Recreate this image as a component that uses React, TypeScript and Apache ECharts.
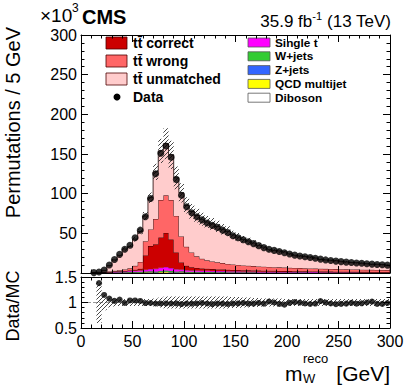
import React, { useEffect, useRef } from "react";
import * as echarts from "echarts";

// ---------- data (thousands of permutations per 5 GeV bin) ----------
const BIN_START = 10; // GeV, low edge of first bin
const BIN_WIDTH = 5; // GeV

const dataCounts = [
  0.5, 1.2, 3.8, 10, 17, 23.5, 30, 35, 44.5, 54,
  71, 94, 125, 151, 160, 146, 118, 98, 83.5, 76,
  71, 67, 63, 60, 57.5, 54, 51, 47, 44.5, 42,
  39.5, 37, 34.5, 32, 30, 28.5, 27, 25.5, 24, 22.5,
  21.5, 20.5, 19.5, 18.5, 17.5, 16.5, 15.8, 15, 14.3, 13.7,
  13.2, 12.7, 12.2, 11.7, 11.2, 10.7, 10.3, 9.9,
];

const ttCorrect = [
  0.05, 0.1, 0.15, 0.2, 0.3, 0.4, 0.5, 0.7, 1.0, 2.0,
  18, 29, 31, 38, 43, 36, 21, 9, 5.5, 4,
  3.2, 2.8, 2.5, 2.3, 2.1, 2.0, 1.9, 1.8, 1.7, 1.6,
  1.5, 1.45, 1.4, 1.35, 1.3, 1.25, 1.2, 1.15, 1.1, 1.05,
  1.0, 0.95, 0.9, 0.88, 0.85, 0.82, 0.8, 0.77, 0.74, 0.72,
  0.7, 0.68, 0.66, 0.64, 0.62, 0.6, 0.58, 0.56,
];

const ttWrong = [
  0.05, 0.2, 0.45, 0.7, 1.0, 1.3, 1.9, 2.7, 5.0, 8.7,
  18, 21, 31.7, 47.3, 47.5, 49.8, 46.2, 32.7, 24, 18.8,
  14.7, 12.4, 10.7, 9.6, 9.0, 8.1, 7.3, 6.9, 6.3, 6.0,
  5.8, 5.4, 5.2, 5.1, 4.8, 4.65, 4.5, 4.3, 4.1, 4.1,
  4.0, 3.86, 3.77, 3.6, 3.5, 3.37, 3.3, 3.2, 3.16, 3.0,
  2.95, 2.9, 2.76, 2.68, 2.63, 2.57, 2.5, 2.45,
];

const ttUnmatched = [
  0.05, 0.25, 2.0, 7.3, 13.7, 18.6, 25.8, 27.7, 33.8, 38.4,
  31.7, 40, 59.5, 62, 65, 57, 48, 55, 52.2, 51.6,
  51.4, 49.7, 48.3, 47.4, 45.2, 42.6, 41.1, 37.2, 35.2, 32.8,
  31.2, 29.1, 26.5, 24.7, 21.7, 21.1, 20.7, 19.8, 17.6, 15.9,
  15.3, 14.9, 14.3, 13.3, 11.6, 11.3, 11.0, 10.6, 9.9, 9.4,
  8.8, 8.6, 8.2, 7.6, 7.0, 7.1, 6.8, 6.3,
];

const singleTop = [
  0.05, 0.1, 0.3, 0.5, 0.7, 0.9, 1.1, 1.3, 1.5, 1.8,
  2.2, 2.7, 3.3, 4.0, 4.5, 3.8, 2.8, 2.2, 1.9, 1.7,
  1.6, 1.5, 1.45, 1.4, 1.35, 1.3, 1.25, 1.2, 1.15, 1.1,
  1.05, 1.0, 0.95, 0.9, 0.88, 0.85, 0.82, 0.8, 0.77, 0.74,
  0.72, 0.7, 0.68, 0.66, 0.64, 0.62, 0.6, 0.58, 0.56, 0.55,
  0.53, 0.52, 0.5, 0.49, 0.48, 0.47, 0.46, 0.45,
];

const wJets = [
  0.05, 0.1, 0.2, 0.3, 0.4, 0.5, 0.55, 0.6, 0.7, 0.75,
  0.85, 0.95, 1.0, 1.1, 1.2, 1.1, 0.95, 0.85, 0.8, 0.75,
  0.7, 0.68, 0.65, 0.62, 0.6, 0.58, 0.55, 0.52, 0.5, 0.48,
  0.46, 0.44, 0.42, 0.4, 0.38, 0.36, 0.35, 0.34, 0.32, 0.3,
  0.29, 0.28, 0.27, 0.26, 0.25, 0.24, 0.23, 0.22, 0.21, 0.2,
  0.2, 0.19, 0.18, 0.18, 0.17, 0.16, 0.16, 0.15,
];

const zJets = [
  0.02, 0.04, 0.06, 0.08, 0.1, 0.12, 0.14, 0.15, 0.17, 0.19,
  0.22, 0.25, 0.28, 0.3, 0.32, 0.3, 0.27, 0.24, 0.22, 0.2,
  0.19, 0.18, 0.17, 0.16, 0.15, 0.14, 0.13, 0.12, 0.12, 0.11,
  0.1, 0.1, 0.09, 0.09, 0.08, 0.08, 0.07, 0.07, 0.07, 0.06,
  0.06, 0.06, 0.05, 0.05, 0.05, 0.05, 0.04, 0.04, 0.04, 0.04,
  0.04, 0.03, 0.03, 0.03, 0.03, 0.03, 0.03, 0.03,
];

const qcdMultijet = [
  0.0, 0.05, 0.1, 0.15, 0.2, 0.3, 0.2, 0.4, 0.5, 0.4,
  0.7, 0.9, 0.6, 1.1, 1.3, 0.8, 0.6, 0.9, 0.5, 0.4,
  0.5, 0.3, 0.4, 0.3, 0.2, 0.3, 0.25, 0.2, 0.3, 0.2,
  0.15, 0.2, 0.15, 0.1, 0.2, 0.15, 0.1, 0.1, 0.15, 0.1,
  0.1, 0.1, 0.08, 0.1, 0.08, 0.06, 0.1, 0.06, 0.05, 0.06,
  0.05, 0.05, 0.04, 0.05, 0.04, 0.04, 0.03, 0.03,
];

const diboson = [
  0.02, 0.03, 0.05, 0.06, 0.08, 0.09, 0.1, 0.11, 0.12, 0.13,
  0.14, 0.15, 0.16, 0.17, 0.18, 0.17, 0.16, 0.15, 0.14, 0.13,
  0.12, 0.12, 0.11, 0.11, 0.1, 0.1, 0.09, 0.09, 0.09, 0.08,
  0.08, 0.08, 0.07, 0.07, 0.07, 0.06, 0.06, 0.06, 0.06, 0.05,
  0.05, 0.05, 0.05, 0.05, 0.04, 0.04, 0.04, 0.04, 0.04, 0.04,
  0.03, 0.03, 0.03, 0.03, 0.03, 0.03, 0.03, 0.03,
];

// relative MC uncertainty per bin (hatched band)
const mcRelUnc = [
  0, 0.4, 0.15, 0.1, 0.08, 0.07, 0.07, 0.07, 0.07, 0.07,
  0.07, 0.07, 0.08, 0.1, 0.12, 0.12, 0.12, 0.12, 0.12, 0.12,
  0.12, 0.12, 0.12, 0.12, 0.12, 0.12, 0.12, 0.11, 0.11, 0.1,
  0.1, 0.09, 0.09, 0.08, 0.08, 0.08, 0.08, 0.07, 0.07, 0.07,
  0.07, 0.07, 0.07, 0.07, 0.07, 0.07, 0.07, 0.07, 0.07, 0.07,
  0.07, 0.07, 0.07, 0.07, 0.07, 0.07, 0.07, 0.07,
];

const ratioTickLabels: Record<string, string> = { "0.5": "0.5", "1": "1", "1.5": "1.5" };

// stack, bottom to top
const stackDefs = [
  { name: "Diboson", values: diboson, color: "#ffffff" },
  { name: "QCD multijet", values: qcdMultijet, color: "#ffff00" },
  { name: "Z+jets", values: zJets, color: "#3366ff" },
  { name: "W+jets", values: wJets, color: "#33cc33" },
  { name: "Single t", values: singleTop, color: "#ff00ff" },
  { name: "tt̄ correct", values: ttCorrect, color: "#cc0000" },
  { name: "tt̄ wrong", values: ttWrong, color: "#ff6666" },
  { name: "tt̄ unmatched", values: ttUnmatched, color: "#ffcccc" },
];

const FONT = '"Liberation Sans", Arial, Helvetica, sans-serif';

function makeHatchCanvas() {
  const c = document.createElement("canvas");
  c.width = 4;
  c.height = 4;
  const ctx = c.getContext("2d")!;
  ctx.strokeStyle = "#333";
  ctx.lineWidth = 0.9;
  ctx.beginPath();
  ctx.moveTo(0, 4);
  ctx.lineTo(4, 0);
  ctx.moveTo(-1, 1);
  ctx.lineTo(1, -1);
  ctx.moveTo(3, 5);
  ctx.lineTo(5, 3);
  ctx.stroke();
  return c;
}

export default function App() {
  const ref = useRef<HTMLDivElement>(null);

  useEffect(() => {
    if (!ref.current) return;
    const chart = echarts.init(ref.current, undefined, { renderer: "svg" });
    const n = dataCounts.length;
    const edges: number[] = [];
    for (let i = 0; i <= n; i++) edges.push(BIN_START + i * BIN_WIDTH);
    const centers = edges.slice(0, n).map((e) => e + BIN_WIDTH / 2);

    // cumulative stack levels
    const levels: number[][] = [new Array(n).fill(0)];
    stackDefs.forEach((s, k) => {
      levels.push(levels[k].map((v, i) => v + s.values[i]));
    });
    const total = levels[levels.length - 1];

    const hatchPattern: any = {
      image: makeHatchCanvas(),
      repeat: "repeat",
      imageWidth: 4,
      imageHeight: 4,
    };

    const layer = (
      base: number[],
      top: number[],
      fill: any,
      stroke: string | null,
      lw: number,
      xi: number,
      yi: number,
      z: number
    ) => ({
      type: "custom",
      xAxisIndex: xi,
      yAxisIndex: yi,
      data: [[0]],
      clip: true,
      silent: true,
      z,
      renderItem: (_p: any, api: any) => {
        const topPts: number[][] = [];
        const basePts: number[][] = [];
        for (let i = 0; i < n; i++) {
          topPts.push(api.coord([edges[i], top[i]]), api.coord([edges[i + 1], top[i]]));
          basePts.push(api.coord([edges[i], base[i]]), api.coord([edges[i + 1], base[i]]));
        }
        const children: any[] = [
          {
            type: "polygon",
            shape: { points: [...topPts, ...basePts.slice().reverse()] },
            style: { fill, stroke: null },
          },
        ];
        if (stroke) {
          children.push({
            type: "polyline",
            shape: {
              points: [api.coord([edges[0], base[0]]), ...topPts, api.coord([edges[n], base[n - 1]])],
            },
            style: { stroke, lineWidth: lw, fill: null },
          });
        }
        return { type: "group", children };
      },
    });

    const stackSeries = stackDefs.map((s, k) =>
      layer(levels[k], levels[k + 1], s.color, k >= 5 ? "#1a0000" : "#333", k >= 5 ? 0.8 : 0.5, 0, 0, 2 + k * 0.01)
    );

    const upper = total.map((t, i) => t * (1 + mcRelUnc[i]));
    const lower = total.map((t, i) => t * (1 - mcRelUnc[i]));
    const rUp = total.map((t, i) => (t > 0 && mcRelUnc[i] > 0 ? 1 + mcRelUnc[i] : 1));
    const rLo = total.map((t, i) => (t > 0 && mcRelUnc[i] > 0 ? 1 - mcRelUnc[i] : 1));

    const ratio = dataCounts.map((d, i) => [centers[i], total[i] > 0 ? d / total[i] : null]);

    const xBase = {
      type: "value",
      min: 0,
      max: 300,
      interval: 50,
      z: 10,
      axisLine: { show: true, onZero: false, lineStyle: { color: "#000", width: 1 } },
      axisTick: { show: true, inside: true, length: 7, lineStyle: { color: "#000" } },
      minorTick: { show: true, splitNumber: 5, length: 3.5, lineStyle: { color: "#000" } },
      splitLine: { show: false },
      minorSplitLine: { show: false },
      axisLabel: { show: false },
    };

    const txt = (x: number, y: number, text: string, fontSize: number, extra: any = {}) => ({
      type: "text",
      x,
      y,
      ...(extra.rotation !== undefined ? { rotation: extra.rotation } : {}),
      style: {
        text,
        fontSize,
        fontFamily: FONT,
        fill: "#000",
        align: extra.align || "left",
        verticalAlign: "middle",
        fontWeight: extra.bold ? "bold" : "normal",
      },
    });

    const option: any = {
      animation: false,
      backgroundColor: "#fff",
      grid: [
        { left: 81, top: 35, width: 309, height: 238 },
        { left: 81, top: 277, width: 309, height: 51 },
      ],
      xAxis: [
        { ...xBase, gridIndex: 0, position: "bottom" },
        { ...xBase, gridIndex: 0, position: "top" },
        {
          ...xBase,
          gridIndex: 1,
          position: "bottom",
          axisLabel: { show: true, fontSize: 16, fontFamily: FONT, color: "#000", margin: 5 },
        },
        { ...xBase, gridIndex: 1, position: "top" },
      ],
      yAxis: [
        {
          ...xBase,
          gridIndex: 0,
          position: "left",
          min: 0,
          max: 300,
          interval: 50,
          axisLabel: {
            show: true,
            fontSize: 16,
            fontFamily: FONT,
            color: "#000",
            margin: 4,
            showMinLabel: false,
          },
        },
        { ...xBase, gridIndex: 0, position: "right", min: 0, max: 300, interval: 50 },
        {
          ...xBase,
          gridIndex: 1,
          position: "left",
          min: 0.5,
          max: 1.5,
          interval: 0.5,
          axisLabel: {
            show: true,
            fontSize: 16,
            fontFamily: FONT,
            color: "#000",
            margin: 4,
            formatter: (v: number) => ratioTickLabels[String(v)] ?? String(v),
          },
        },
        { ...xBase, gridIndex: 1, position: "right", min: 0.5, max: 1.5, interval: 0.5 },
      ],
      series: [
        ...stackSeries,
        layer(lower, upper, hatchPattern, null, 0, 0, 0, 3),
        {
          type: "scatter",
          xAxisIndex: 0,
          yAxisIndex: 0,
          symbol: "circle",
          symbolSize: 7,
          itemStyle: { color: "#000" },
          data: dataCounts.map((d, i) => [centers[i], d]),
          z: 5,
          silent: true,
        },
        {
          type: "line",
          xAxisIndex: 2,
          yAxisIndex: 2,
          data: [
            [0, 1],
            [300, 1],
          ],
          symbol: "none",
          lineStyle: { color: "#999", width: 1, type: "dashed" },
          z: 1,
          silent: true,
        },
        layer(rLo, rUp, hatchPattern, null, 0, 2, 2, 3),
        {
          type: "scatter",
          xAxisIndex: 2,
          yAxisIndex: 2,
          symbol: "circle",
          symbolSize: 6,
          itemStyle: { color: "#000" },
          data: ratio,
          clip: true,
          z: 5,
          silent: true,
        },
      ],
      graphic: {
        elements: [
          // header
          txt(40, 15, "×10", 19),
          txt(72, 8, "3", 12),
          txt(82, 17, "CMS", 20, { bold: true }),
          {
            type: "text",
            x: 391,
            y: 20,
            style: {
              text: "{a|35.9 fb}{s|-1}{a| (13 TeV)}",
              align: "right",
              verticalAlign: "middle",
              fill: "#000",
              rich: {
                a: { fontSize: 17, fontFamily: FONT, fill: "#000", lineHeight: 20, verticalAlign: "bottom" },
                s: { fontSize: 11, fontFamily: FONT, fill: "#000", lineHeight: 20, verticalAlign: "top" },
              },
            },
          },
          // axis titles
          txt(13, 27, "Permutations / 5 GeV", 20, { rotation: Math.PI / 2, align: "right" }),
          txt(13, 306, "Data/MC", 18, { rotation: Math.PI / 2, align: "center" }),
          txt(285, 373, "m", 21),
          txt(303, 358, "reco", 13),
          txt(303, 378, "W", 13),
          txt(390, 373, "[GeV]", 21, { align: "right" }),
          // legend left column
          ...[0, 1, 2].map((j) => ({
            type: "rect",
            shape: { x: 106, y: 43 + j * 18 - 6, width: 21, height: 12 },
            style: { fill: stackDefs[5 + j].color, stroke: "#4d0000", lineWidth: 0.8 },
          })),
          ...[0, 1, 2].map((j) => txt(133, 43 + j * 18, stackDefs[5 + j].name, 14, { bold: true })),
          { type: "circle", shape: { cx: 117, cy: 97, r: 3.5 }, style: { fill: "#000" } },
          txt(133, 97, "Data", 14, { bold: true }),
          // legend right column
          ...[4, 3, 2, 1, 0].map((k, j) => ({
            type: "rect",
            shape: { x: 248, y: 42.5 + j * 13.8 - 4.5, width: 22, height: 9 },
            style: { fill: stackDefs[k].color, stroke: "#555", lineWidth: 0.8 },
          })),
          ...[4, 3, 2, 1, 0].map((k, j) => txt(275, 42.5 + j * 13.8, stackDefs[k].name, 11.8, { bold: true })),
        ],
      },
    };

    chart.setOption(option);
    return () => chart.dispose();
  }, []);

  return (
    <div
      ref={ref}
      style={{ position: "fixed", left: 0, top: 0, width: 407, height: 391, background: "#fff" }}
    />
  );
}
